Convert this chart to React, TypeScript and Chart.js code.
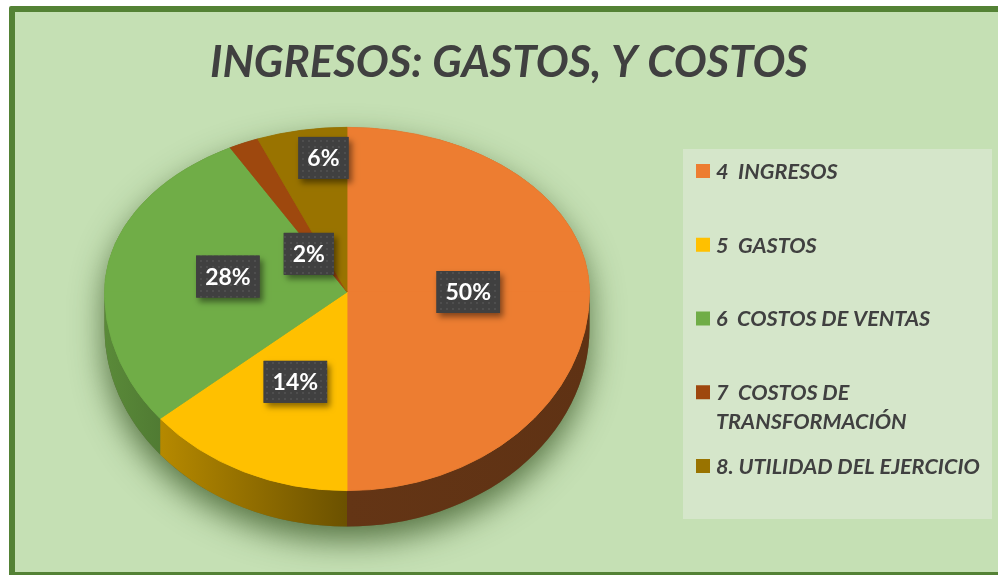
import React, { useEffect, useRef } from "react";
import { Chart, registerables } from "chart.js";

Chart.register(...registerables);

// ---------- data ----------
const TITLE = "INGRESOS: GASTOS, Y COSTOS";
const CATEGORIES = [
  "4  INGRESOS",
  "5  GASTOS",
  "6  COSTOS DE VENTAS",
  "7  COSTOS DE TRANSFORMACIÓN",
  "8. UTILIDAD DEL EJERCICIO",
];
const VALUES = [50, 14, 28, 2, 6];
const COLORS = ["#ED7D31", "#FFC000", "#70AD47", "#9E480E", "#997300"];

// ---------- styling ----------
const W = 998;
const H = 575;
const FONT = "Lato, 'Open Sans', sans-serif";
const TEXT_COLOR = "#404040";
const PIE = { cx: 347, cy: 292, r: 243, kTop: 165 / 243, kBottom: 199 / 243, depth: 36 };
const LABEL_RADIUS = [0.5, 0.5, 0.5, 0.28, 0.82];
const LABEL_ANGLE_SHIFT = [0, 0, 0, -9, 4];
const LEGEND = {
  left: 683, top: 149, right: 992, bottom: 519,
  boxX: 696, box: 14, textX: 716, firstY: 171, step: 73.75, lineH: 29, maxTextW: 272,
  bg: "#D5E6CA",
};

function fitSize(text: string, font: (s: number) => string, target: number) {
  const c = document.createElement("canvas").getContext("2d")!;
  c.font = font(100);
  return (100 * target) / c.measureText(text).width;
}

function shade(hex: string, f: number) {
  const n = parseInt(hex.slice(1), 16);
  const r = Math.round(((n >> 16) & 255) * f);
  const g = Math.round(((n >> 8) & 255) * f);
  const b = Math.round((n & 255) * f);
  return `rgb(${r},${g},${b})`;
}

function makePattern(ctx: CanvasRenderingContext2D) {
  const t = document.createElement("canvas");
  t.width = 6;
  t.height = 6;
  const c = t.getContext("2d")!;
  c.fillStyle = "#404040";
  c.fillRect(0, 0, 6, 6);
  c.fillStyle = "#4e4e4e";
  c.fillRect(2, 2, 2, 2);
  return ctx.createPattern(t, "repeat")!;
}

function wrap(ctx: CanvasRenderingContext2D, text: string, maxW: number) {
  const words = text.split(" ");
  const lines: string[] = [];
  let line = words[0];
  for (let i = 1; i < words.length; i++) {
    const test = line + " " + words[i];
    if (ctx.measureText(test).width > maxW && line.trim() && words[i]) {
      lines.push(line);
      line = words[i];
    } else line = test;
  }
  lines.push(line);
  return lines;
}

const titleFont = (s: number) => `italic bold ${s}px ${FONT}`;
const legendFont = (s: number) => `italic bold ${s}px ${FONT}`;

const pie3d = {
  id: "pie3d",
  afterLayout(chart: any) {
    const ca = chart.chartArea;
    ca.left = PIE.cx - PIE.r;
    ca.right = PIE.cx + PIE.r;
    ca.top = PIE.cy - PIE.r;
    ca.bottom = PIE.cy + PIE.r;
    ca.width = 2 * PIE.r;
    ca.height = 2 * PIE.r;
  },
  beforeDatasetsDraw(chart: any) {
    const ctx: CanvasRenderingContext2D = chart.ctx;
    const arcs = chart.getDatasetMeta(0).data as any[];
    if (!arcs.length) return false;
    const { x: cx, y: cy, outerRadius: R } = arcs[0].getProps(["x", "y", "outerRadius"], true);
    const ryT = R * PIE.kTop;
    const ryB = R * PIE.kBottom;
    const d = PIE.depth;

    // drop shadow silhouette
    ctx.save();
    ctx.beginPath();
    ctx.ellipse(cx, cy, R, ryT, 0, Math.PI, 2 * Math.PI);
    ctx.ellipse(cx, cy + d, R, ryB, 0, 0, Math.PI);
    ctx.closePath();
    ctx.shadowColor = "rgba(40,70,20,0.7)";
    ctx.shadowBlur = 32;
    ctx.shadowOffsetY = 14;
    ctx.fillStyle = "#5a6a3a";
    ctx.fill();
    ctx.restore();

    // side walls
    arcs.forEach((arc, i) => {
      const { startAngle, endAngle } = arc.getProps(["startAngle", "endAngle"], true);
      const c = COLORS[i];
      for (const off of [0, 2 * Math.PI, -2 * Math.PI]) {
        const a = Math.max(startAngle + off, 0);
        const b = Math.min(endAngle + off, Math.PI);
        if (b <= a) continue;
        const g = ctx.createLinearGradient(cx - R, 0, cx + R, 0);
        g.addColorStop(0, shade(c, 0.8));
        g.addColorStop(0.5, shade(c, 0.42));
        g.addColorStop(1, shade(c, 0.4));
        ctx.beginPath();
        ctx.ellipse(cx, cy, R, ryB, 0, a, b);
        ctx.ellipse(cx, cy + d, R, ryB, 0, b, a, true);
        ctx.closePath();
        ctx.fillStyle = g;
        ctx.fill();
      }
    });

    // top face: two half ellipses (perspective approximation)
    const halves: [number, number, number][] = [
      [PIE.kTop, 0, cy + 0.5],
      [PIE.kBottom, cy - 0.5, chart.height],
    ];
    for (const [k, y0, y1] of halves) {
      ctx.save();
      ctx.beginPath();
      ctx.rect(0, y0, chart.width, y1 - y0);
      ctx.clip();
      ctx.translate(cx, cy);
      ctx.scale(1, k);
      ctx.translate(-cx, -cy);
      arcs.forEach((a) => a.draw(ctx));
      ctx.restore();
    }
    return false;
  },
  afterDraw(chart: any) {
    const ctx: CanvasRenderingContext2D = chart.ctx;
    const arcs = chart.getDatasetMeta(0).data as any[];
    const values: number[] = chart.data.datasets[0].data;
    const total = values.reduce((s, v) => s + v, 0);

    // data labels
    const pattern = makePattern(ctx);
    ctx.save();
    ctx.font = `bold 23px ${FONT}`;
    arcs.forEach((arc, i) => {
      const { x: cx, y: cy, outerRadius: R, startAngle, endAngle } = arc.getProps(
        ["x", "y", "outerRadius", "startAngle", "endAngle"], true);
      const m = (startAngle + endAngle) / 2 + (LABEL_ANGLE_SHIFT[i] * Math.PI) / 180;
      const r = R * LABEL_RADIUS[i];
      const s = Math.sin(m);
      const x = cx + r * Math.cos(m);
      const y = cy + r * s * (s < 0 ? PIE.kTop : PIE.kBottom);
      const txt = Math.round((values[i] / total) * 100) + "%";
      const w = ctx.measureText(txt).width + 18;
      const h = 42;
      ctx.save();
      ctx.shadowColor = "rgba(0,0,0,0.45)";
      ctx.shadowBlur = 6;
      ctx.shadowOffsetX = 3;
      ctx.shadowOffsetY = 4;
      ctx.fillStyle = "#404040";
      ctx.fillRect(x - w / 2, y - h / 2, w, h);
      ctx.restore();
      ctx.fillStyle = pattern;
      ctx.fillRect(x - w / 2, y - h / 2, w, h);
      ctx.fillStyle = "#ffffff";
      ctx.textAlign = "center";
      ctx.textBaseline = "middle";
      ctx.fillText(txt, x, y + 1);
    });
    ctx.restore();

    // legend
    const L = LEGEND;
    ctx.save();
    ctx.fillStyle = L.bg;
    ctx.fillRect(L.left, L.top, L.right - L.left, L.bottom - L.top);
    const fs = fitSize(CATEGORIES[4], legendFont, 264);
    ctx.font = legendFont(fs);
    ctx.textAlign = "left";
    ctx.textBaseline = "middle";
    const labels: string[] = chart.data.labels;
    const colors: string[] = chart.data.datasets[0].backgroundColor;
    labels.forEach((lab, i) => {
      const y = L.firstY + i * L.step;
      ctx.fillStyle = colors[i];
      ctx.fillRect(L.boxX, y - L.box / 2, L.box, L.box);
      ctx.fillStyle = TEXT_COLOR;
      wrap(ctx, lab, L.maxTextW).forEach((ln, j) => {
        ctx.fillText(ln, L.textX, y + 1 + j * L.lineH);
      });
    });
    ctx.restore();
  },
};

export default function App() {
  const ref = useRef<HTMLCanvasElement>(null);
  useEffect(() => {
    const titleSize = fitSize(TITLE, titleFont, 598);
    const chart = new Chart(ref.current!, {
      type: "pie",
      data: {
        labels: CATEGORIES,
        datasets: [
          {
            data: VALUES,
            backgroundColor: COLORS,
            borderColor: COLORS,
            borderWidth: 1,
          },
        ],
      },
      options: {
        responsive: false,
        animation: false,
        devicePixelRatio: 1,
        layout: { padding: { left: 20 } },
        plugins: {
          legend: { display: false },
          tooltip: { enabled: false },
          title: {
            display: true,
            text: TITLE,
            color: TEXT_COLOR,
            font: { family: FONT, size: titleSize, weight: "bold", style: "italic", lineHeight: 1.2 },
            padding: { top: 37, bottom: 0 },
          },
        },
      } as any,
      plugins: [pie3d as any],
    });
    return () => chart.destroy();
  }, []);
  return (
    <div style={{ position: "fixed", inset: 0, overflow: "hidden", background: "#fff" }}>
      <div
        style={{
          position: "absolute",
          left: 9,
          top: 6,
          width: 1100,
          height: 572,
          boxSizing: "border-box",
          border: "6px solid #548235",
          borderRadius: 2,
          background: "#C5E0B4",
        }}
      />
      <canvas
        ref={ref}
        width={W}
        height={H}
        style={{ position: "absolute", left: 0, top: 0, width: W, height: H, display: "block" }}
      />
    </div>
  );
}
